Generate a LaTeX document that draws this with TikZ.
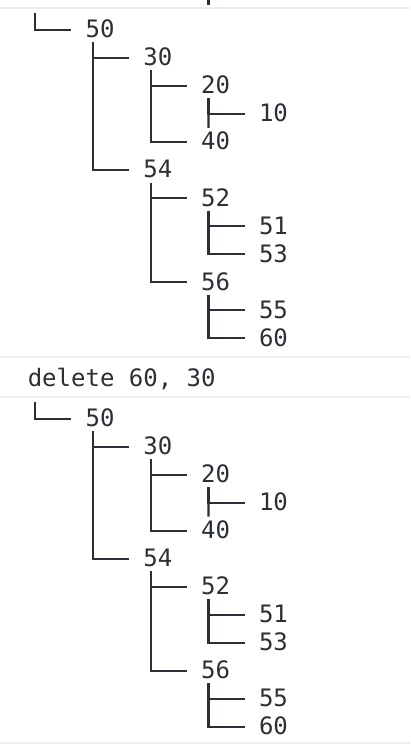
\documentclass[tikz,border=0pt]{standalone}
\usepackage{fontspec}
\newfontfamily\consolefont{DejaVu Sans Mono}
\definecolor{ink}{HTML}{2B3036}
\definecolor{rulegray}{HTML}{EDEDED}
\def\cw{14.45}
\def\xo{27.8}
\newcommand\treebranch[2]{%
  \draw[branch] ([xshift={0.5*\cw pt},yshift=-4.5pt]#1.base west) |- ([xshift=-\cw pt,yshift=7.8pt]#2.base west);}
\newcommand\consoletree[2]{%
  \node[lbl] (#1n50) at ({\xo+4*\cw},{#2+38}) {50};
  \node[lbl] (#1n30) at ({\xo+8*\cw},{#2+66}) {30};
  \node[lbl] (#1n20) at ({\xo+12*\cw},{#2+94}) {20};
  \node[lbl] (#1n10) at ({\xo+16*\cw},{#2+122}) {10};
  \node[lbl] (#1n40) at ({\xo+12*\cw},{#2+150}) {40};
  \node[lbl] (#1n54) at ({\xo+8*\cw},{#2+178}) {54};
  \node[lbl] (#1n52) at ({\xo+12*\cw},{#2+206}) {52};
  \node[lbl] (#1n51) at ({\xo+16*\cw},{#2+234}) {51};
  \node[lbl] (#1n53) at ({\xo+16*\cw},{#2+262}) {53};
  \node[lbl] (#1n56) at ({\xo+12*\cw},{#2+290}) {56};
  \node[lbl] (#1n55) at ({\xo+16*\cw},{#2+318}) {55};
  \node[lbl] (#1n60) at ({\xo+16*\cw},{#2+346}) {60};
  \coordinate (#1root) at ({\xo+0.5*\cw},{#2+13.5});
  \draw[branch] (#1root) |- ([xshift=-\cw pt,yshift=7.8pt]#1n50.base west);
  \treebranch{#1n50}{#1n30}
  \treebranch{#1n50}{#1n54}
  \treebranch{#1n30}{#1n20}
  \treebranch{#1n30}{#1n40}
  \treebranch{#1n20}{#1n10}
  \draw[branch] ([xshift={0.5*\cw pt},yshift=-4.5pt]#1n20.base west) -- ([xshift={-3.5*\cw pt},yshift=-6pt]#1n10.base west);
  \treebranch{#1n54}{#1n52}
  \treebranch{#1n54}{#1n56}
  \treebranch{#1n52}{#1n51}
  \treebranch{#1n52}{#1n53}
  \treebranch{#1n56}{#1n55}
  \treebranch{#1n56}{#1n60}
}
\begin{document}
\begin{tikzpicture}[x=1pt,y=-1pt,
  lbl/.style={anchor=base west,inner sep=0pt,outer sep=0pt,text=ink,
    font=\consolefont\fontsize{24}{28}\selectfont},
  branch/.style={draw=ink,line width=2.2pt},
  sepline/.style={draw=rulegray,line width=2pt}]
\useasboundingbox[fill=white] (0,0) rectangle (410,746);
% separators
\draw[sepline] (0,8.5) -- (410,8.5);
\draw[sepline] (0,356.5) -- (410,356.5);
\draw[sepline] (0,396.5) -- (410,396.5);
\draw[sepline] (0,742.5) -- (410,742.5);
% fragment of the previous output
\coordinate (prevtop) at ({\xo+12.5*\cw},0);
\coordinate (prevend) at ({\xo+12.5*\cw},5);
\draw[branch] (prevtop) -- (prevend);
\consoletree{a}{0}
\node[lbl] (cmd) at (\xo,386) {delete 60, 30};
\consoletree{b}{388.5}
\end{tikzpicture}
\end{document}
